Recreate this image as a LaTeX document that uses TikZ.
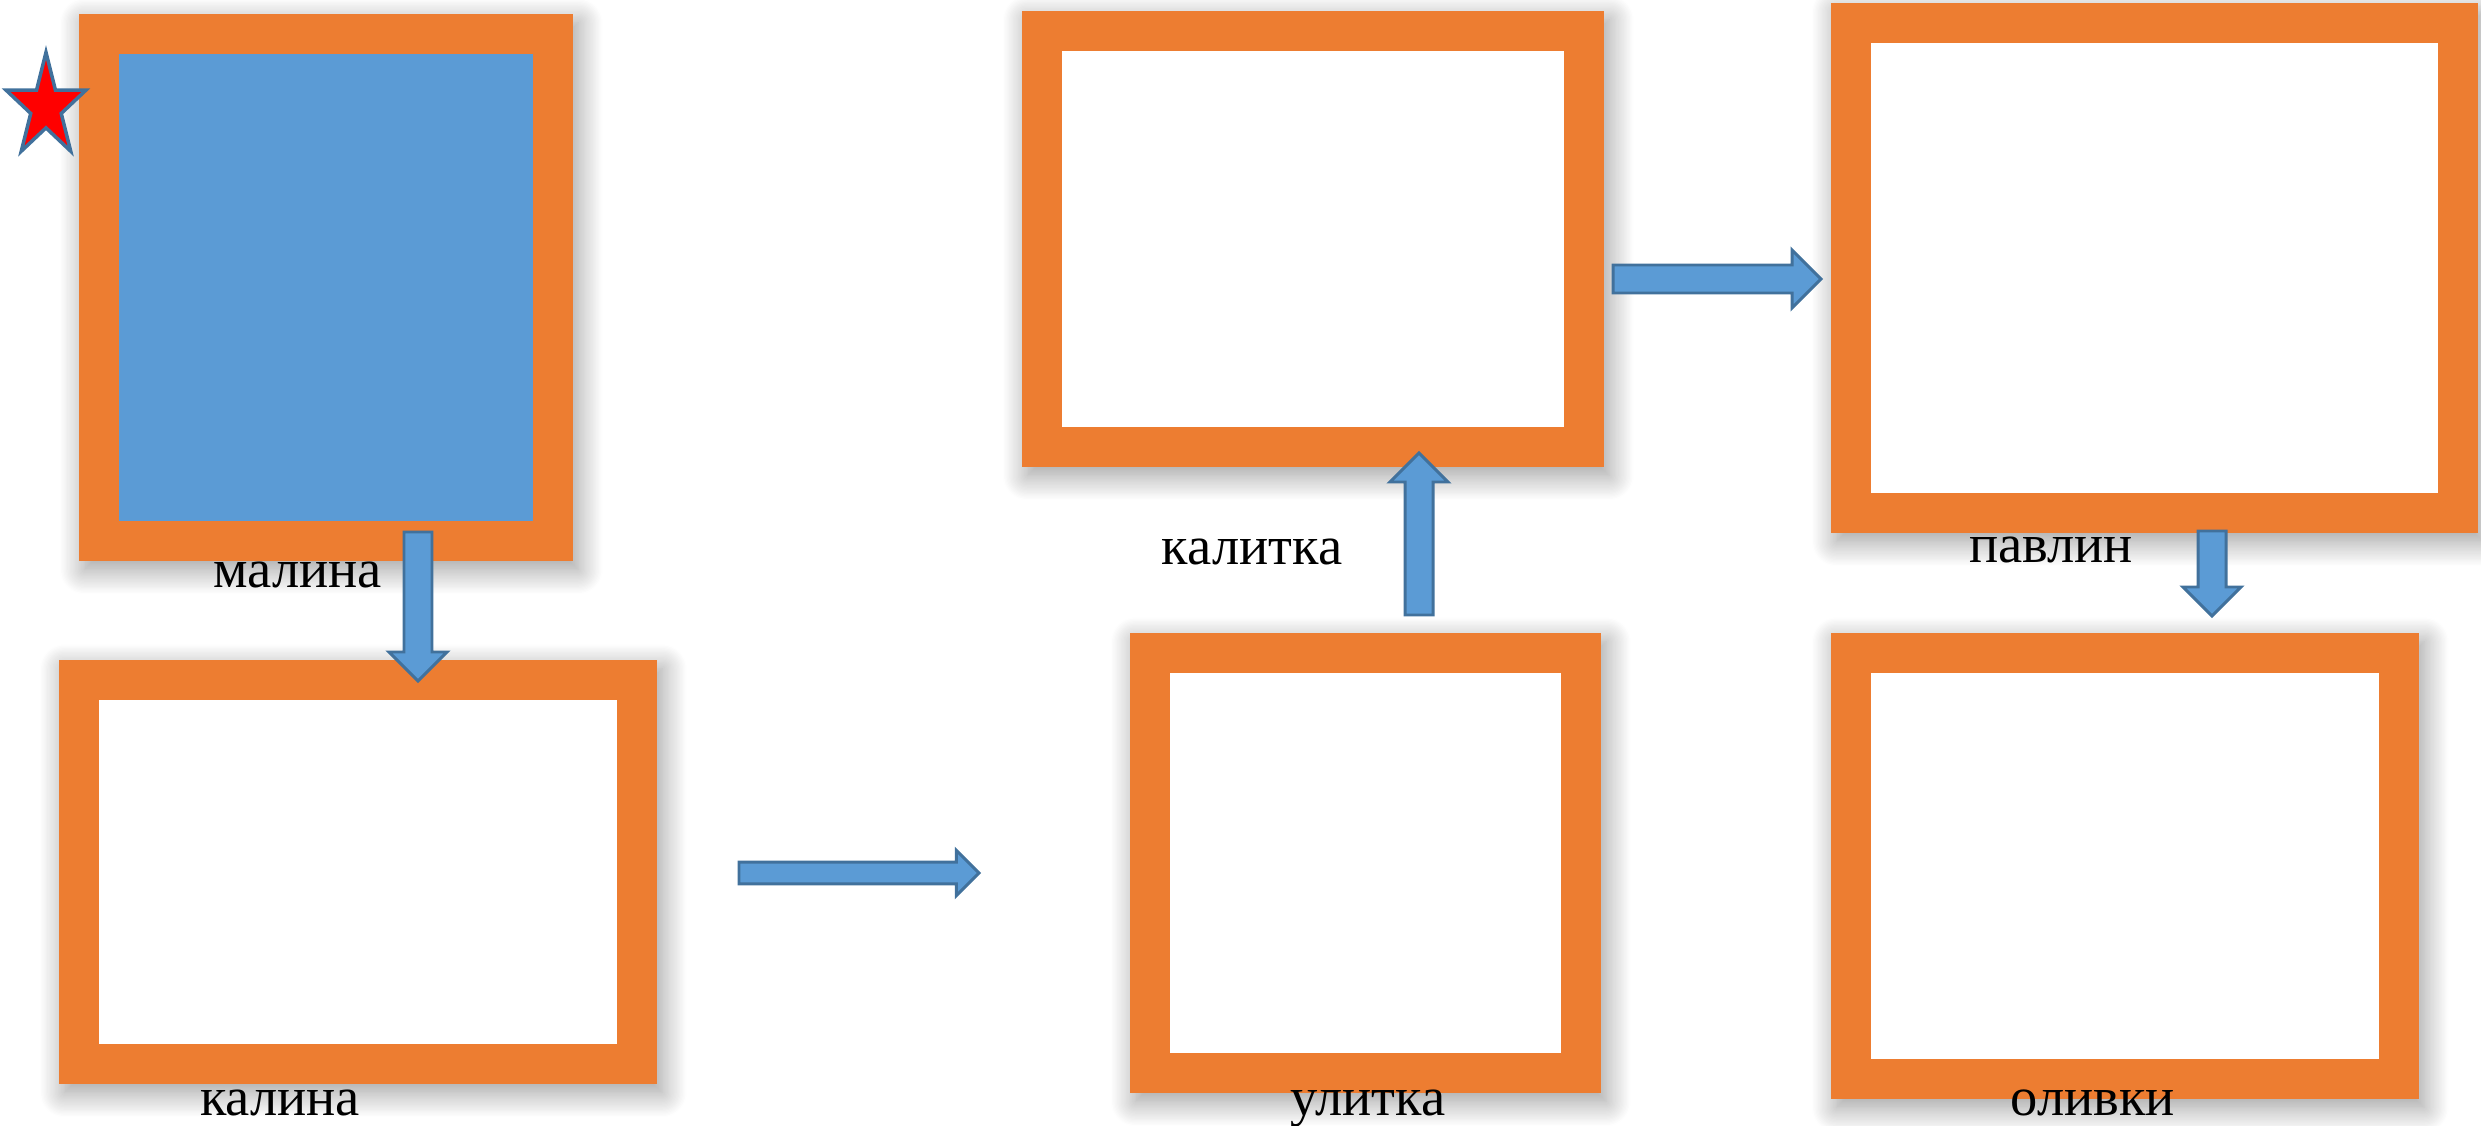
\documentclass[tikz,border=0pt]{standalone}
\usepackage{fontspec}
\setmainfont{Liberation Serif}
\usetikzlibrary{calc}
\usetikzlibrary{shapes.geometric}
\usetikzlibrary{shadows,shadows.blur}
\definecolor{boxorange}{HTML}{ED7D31}
\definecolor{fillblue}{HTML}{5B9BD5}
\definecolor{arrowline}{HTML}{41719C}
\tikzset{every picture/.style={line width=0.2mm}}
\tikzset{
  frame/.style={fill=boxorange, inner sep=0pt,
    blur shadow={shadow xshift=1.5pt, shadow yshift=-2.5pt, shadow blur radius=7pt, shadow blur steps=20, shadow opacity=40},
    path picture={\fill[#1] ([shift={(0.4,0.4)}]path picture bounding box.south west) rectangle ([shift={(-0.4,-0.4)}]path picture bounding box.north east);}},
  frame/.default=white,
  word/.style={font=\fontsize{15.5}{18}\selectfont, anchor=base, inner sep=0pt},
  fatarrow/.style n args={3}{draw=arrowline, fill=arrowfill, line width=0.85pt,
    to path={($(\tikztostart)!#1!90:(\tikztotarget)$)
      -- ($(\tikztotarget)!#3!(\tikztostart)!#1!-90:(\tikztostart)$)
      -- ($(\tikztotarget)!#3!(\tikztostart)!#2!-90:(\tikztostart)$)
      -- (\tikztotarget)
      -- ($(\tikztotarget)!#3!(\tikztostart)!#2!90:(\tikztostart)$)
      -- ($(\tikztotarget)!#3!(\tikztostart)!#1!90:(\tikztostart)$)
      -- ($(\tikztostart)!#1!-90:(\tikztotarget)$) -- cycle}},
  bigarrow/.style={fatarrow={0.14cm}{0.29cm}{0.29cm}},
  smallarrow/.style={fatarrow={0.108cm}{0.227cm}{0.227cm}},
}
\colorlet{arrowfill}{fillblue}

\begin{document}
\begin{tikzpicture}
              \useasboundingbox (0,0) rectangle (24.81,11.25);
              \node[frame=fillblue, minimum width=4.94cm, minimum height=5.47cm] (malina) at (3.26,8.375) {};
              \node[frame, minimum width=5.98cm, minimum height=4.24cm] (kalina) at (3.58,2.53) {};
              \node[frame, minimum width=5.82cm, minimum height=4.56cm] (kalitka) at (13.13,8.86) {};
              \node[frame, minimum width=4.71cm, minimum height=4.60cm] (ulitka) at (13.655,2.62) {};
              \node[frame, minimum width=6.47cm, minimum height=5.30cm] (pavlin) at (21.545,8.57) {};
              \node[frame, minimum width=5.88cm, minimum height=4.66cm] (olivki) at (21.25,2.59) {};
              \node[star, star points=5, star point ratio=2.618, minimum size=0.84cm, inner sep=0pt,
                    fill=red, draw=arrowline, line width=1pt, yscale=1.3, transform shape] (mark) at (0.46,10.18) {};
              \node[word] (malinatext) at (2.98,5.37) {малина};
              \node[word] (kalinatext) at (2.80,0.10) {калина};
              \node[word] (kalitkatext) at (12.52,5.60) {калитка};
              \node[word] (ulitkatext) at (13.68,0.10) {улитка};
              \node[word] (pavlintext) at (20.51,5.62) {павлин};
              \node[word] (olivkitext) at (20.93,0.10) {оливки};
              \coordinate (a1s) at (4.18,5.93);
              \coordinate (a1e) at (4.18,4.44);
              \coordinate (a2s) at (7.39,2.52);
              \coordinate (a2e) at (9.79,2.52);
              \coordinate (a3s) at (14.19,5.10);
              \coordinate (a3e) at (14.19,6.72);
              \coordinate (a4s) at (16.13,8.46);
              \coordinate (a4e) at (18.21,8.46);
              \coordinate (a5s) at (22.12,5.94);
              \coordinate (a5e) at (22.12,5.09);
              \draw[bigarrow] (a1s) to (a1e);
              \draw[smallarrow] (a2s) to (a2e);
              \draw[bigarrow] (a3s) to (a3e);
              \draw[bigarrow] (a4s) to (a4e);
              \draw[bigarrow] (a5s) to (a5e);
            \end{tikzpicture}
\end{document}
